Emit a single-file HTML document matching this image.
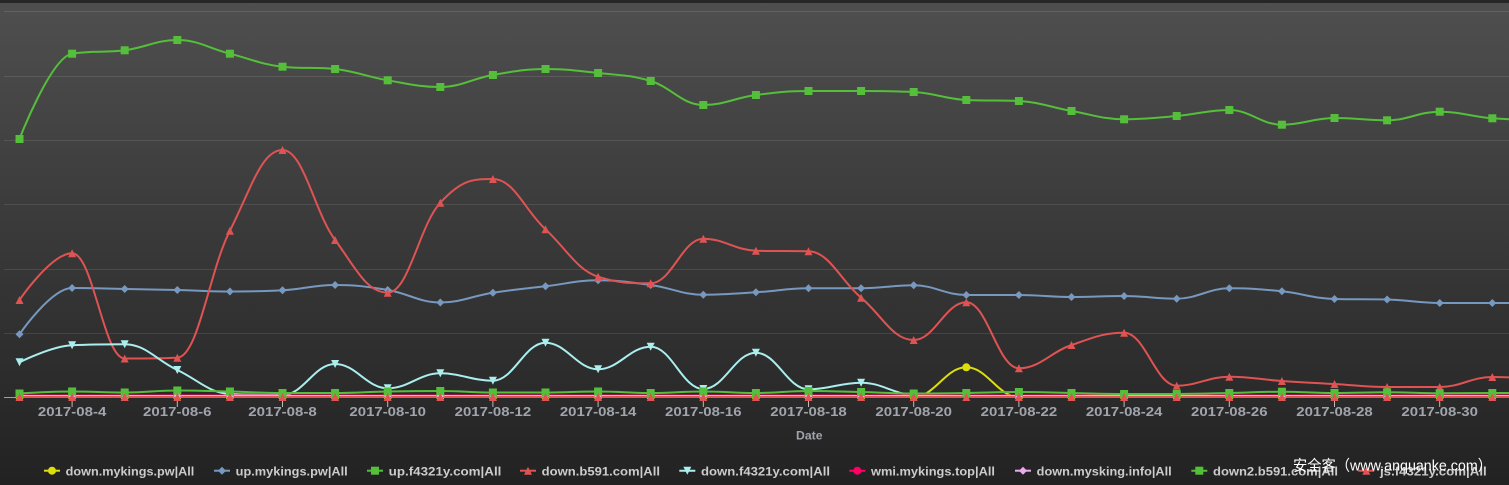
<!DOCTYPE html>
<html><head><meta charset="utf-8">
<style>
html,body{margin:0;padding:0;background:#222;}
svg{display:block;}
.ax{font-family:"Liberation Sans",sans-serif;font-weight:bold;font-size:13px;fill:#a0a4ac;}
.lg{font-family:"Liberation Sans",sans-serif;font-weight:bold;font-size:12px;fill:#cccccc;}
.wm{font-family:"Liberation Sans","Noto Sans CJK SC",sans-serif;font-size:15px;fill:#ffffff;}
</style></head>
<body>
<svg id="c" width="1509" height="485" viewBox="0 0 1509 485" xmlns="http://www.w3.org/2000/svg">
<defs>
<linearGradient id="bg" x1="0" y1="0" x2="0" y2="1">
<stop offset="0" stop-color="#4f4f4f"/><stop offset="1" stop-color="#222222"/>
</linearGradient>
<clipPath id="clip"><rect x="4" y="0" width="1505" height="420"/></clipPath>
</defs>
<rect width="1509" height="485" fill="url(#bg)"/>
<rect width="1509" height="3" fill="#262626"/>
<g stroke="rgba(255,255,255,0.1)" stroke-width="1">
<line x1="4" x2="1509" y1="11.5" y2="11.5"/>
<line x1="4" x2="1509" y1="76.5" y2="76.5"/>
<line x1="4" x2="1509" y1="140.5" y2="140.5"/>
<line x1="4" x2="1509" y1="204.5" y2="204.5"/>
<line x1="4" x2="1509" y1="269.5" y2="269.5"/>
<line x1="4" x2="1509" y1="333.5" y2="333.5"/>
</g>
<line x1="4" x2="1509" y1="397.5" y2="397.5" stroke="#a0a0a0" stroke-width="1"/>
<g stroke="#bbbbbb" stroke-width="1">
<line x1="72.1" x2="72.1" y1="397" y2="407"/>
<line x1="177.3" x2="177.3" y1="397" y2="407"/>
<line x1="282.5" x2="282.5" y1="397" y2="407"/>
<line x1="387.7" x2="387.7" y1="397" y2="407"/>
<line x1="492.9" x2="492.9" y1="397" y2="407"/>
<line x1="598.1" x2="598.1" y1="397" y2="407"/>
<line x1="703.3" x2="703.3" y1="397" y2="407"/>
<line x1="808.5" x2="808.5" y1="397" y2="407"/>
<line x1="913.7" x2="913.7" y1="397" y2="407"/>
<line x1="1018.9" x2="1018.9" y1="397" y2="407"/>
<line x1="1124.1" x2="1124.1" y1="397" y2="407"/>
<line x1="1229.3" x2="1229.3" y1="397" y2="407"/>
<line x1="1334.5" x2="1334.5" y1="397" y2="407"/>
<line x1="1439.7" x2="1439.7" y1="397" y2="407"/>
</g>
<g id="lines" clip-path="url(#clip)" fill="none" stroke-width="2" stroke-linejoin="round" stroke-linecap="round"></g>
<g id="markers" clip-path="url(#clip)"></g>

<g class="ax" text-anchor="middle">
<text x="72.1" y="416" textLength="68.5" lengthAdjust="spacingAndGlyphs">2017-08-4</text>
<text x="177.3" y="416" textLength="68.5" lengthAdjust="spacingAndGlyphs">2017-08-6</text>
<text x="282.5" y="416" textLength="68.5" lengthAdjust="spacingAndGlyphs">2017-08-8</text>
<text x="387.7" y="416" textLength="76.5" lengthAdjust="spacingAndGlyphs">2017-08-10</text>
<text x="492.9" y="416" textLength="76.5" lengthAdjust="spacingAndGlyphs">2017-08-12</text>
<text x="598.1" y="416" textLength="76.5" lengthAdjust="spacingAndGlyphs">2017-08-14</text>
<text x="703.3" y="416" textLength="76.5" lengthAdjust="spacingAndGlyphs">2017-08-16</text>
<text x="808.5" y="416" textLength="76.5" lengthAdjust="spacingAndGlyphs">2017-08-18</text>
<text x="913.7" y="416" textLength="76.5" lengthAdjust="spacingAndGlyphs">2017-08-20</text>
<text x="1018.9" y="416" textLength="76.5" lengthAdjust="spacingAndGlyphs">2017-08-22</text>
<text x="1124.1" y="416" textLength="76.5" lengthAdjust="spacingAndGlyphs">2017-08-24</text>
<text x="1229.3" y="416" textLength="76.5" lengthAdjust="spacingAndGlyphs">2017-08-26</text>
<text x="1334.5" y="416" textLength="76.5" lengthAdjust="spacingAndGlyphs">2017-08-28</text>
<text x="1439.7" y="416" textLength="76.5" lengthAdjust="spacingAndGlyphs">2017-08-30</text>
<text x="809.3" y="439.5" style="font-size:11.5px" textLength="26.5" lengthAdjust="spacingAndGlyphs">Date</text>
</g>

<!-- legend -->
<g stroke-width="2">
<line x1="44" x2="60" y1="470.7" y2="470.7" stroke="#DDDF0D"/>
<circle cx="52" cy="470.7" r="4" fill="#DDDF0D"/>
<line x1="214" x2="230" y1="470.7" y2="470.7" stroke="#7798BF"/>
<path d="M222 466.7L226 470.7L222 474.7L218 470.7Z" fill="#7798BF"/>
<line x1="367" x2="383" y1="470.7" y2="470.7" stroke="#55BF3B"/>
<rect x="371" y="466.7" width="8" height="8" fill="#55BF3B"/>
<line x1="520" x2="536" y1="470.7" y2="470.7" stroke="#DF5353"/>
<path d="M528 466.7L532 474.7L524 474.7Z" fill="#DF5353"/>
<line x1="679.3" x2="695.3" y1="470.7" y2="470.7" stroke="#aaeeee"/>
<path d="M683.3 466.7L691.3 466.7L687.3 474.7Z" fill="#aaeeee"/>
<line x1="849.3" x2="865.3" y1="470.7" y2="470.7" stroke="#ff0066"/>
<circle cx="857.3" cy="470.7" r="4" fill="#ff0066"/>
<line x1="1015" x2="1031" y1="470.7" y2="470.7" stroke="#eeaaee"/>
<path d="M1023 466.7L1027 470.7L1023 474.7L1019 470.7Z" fill="#eeaaee"/>
<line x1="1191.3" x2="1207.3" y1="470.7" y2="470.7" stroke="#55BF3B"/>
<rect x="1195.3" y="466.7" width="8" height="8" fill="#55BF3B"/>
<line x1="1358.3" x2="1374.3" y1="470.7" y2="470.7" stroke="#DF5353"/>
<path d="M1366.3 466.7L1370.3 474.7L1362.3 474.7Z" fill="#DF5353"/>
</g>
<g class="lg">
<text x="65.7" y="475.5" textLength="128.6" lengthAdjust="spacingAndGlyphs">down.mykings.pw|All</text>
<text x="235.7" y="475.5" textLength="112" lengthAdjust="spacingAndGlyphs">up.mykings.pw|All</text>
<text x="388.7" y="475.5" textLength="112.7" lengthAdjust="spacingAndGlyphs">up.f4321y.com|All</text>
<text x="541.7" y="475.5" textLength="118.3" lengthAdjust="spacingAndGlyphs">down.b591.com|All</text>
<text x="701" y="475.5" textLength="129" lengthAdjust="spacingAndGlyphs">down.f4321y.com|All</text>
<text x="871" y="475.5" textLength="124" lengthAdjust="spacingAndGlyphs">wmi.mykings.top|All</text>
<text x="1036.7" y="475.5" textLength="135" lengthAdjust="spacingAndGlyphs">down.mysking.info|All</text>
<text x="1213" y="475.5" textLength="125" lengthAdjust="spacingAndGlyphs">down2.b591.com|All</text>
<text x="1380" y="475.5" textLength="106.7" lengthAdjust="spacingAndGlyphs">js.f4321y.com|All</text>
</g>
<text class="wm" x="1293" y="470.5" textLength="199" lengthAdjust="spacingAndGlyphs">安全客（www.anquanke.com）</text>
</svg>
<script>
(function(){
var NS="http://www.w3.org/2000/svg";
function X(i){return 19.5+52.6*i;}
function fill(v,n){var a=[];for(var i=0;i<n;i++)a.push(v);return a;}
var Z=397;
var yellow=fill(Z,30); yellow[18]=367.3;
var blue=[334.3,288,289,290,291.5,290.3,285,290,302.5,292.7,286.3,280.3,285,294.7,292.3,288.3,288.3,285.3,295,295,297,296,298.7,288.3,291.3,299,299.5,303,303,303];
var green=[139,53.7,50.3,40,53.7,66.7,69,80.3,87,75,69,73,81,105,95,91,91,92,100,101,111,119.3,116,110,124.7,118,120.3,111.7,118.3,120];
var red=[300,253.3,358.5,357.7,230.7,150,240,292.7,202.7,179,229.3,276.7,283.3,238.7,250.7,251.3,297.7,340,302.3,368.3,345,332.7,385.7,376.7,381,384,387,387,377,380];
var cyan=[362.3,345.3,344.3,370,394,395,364,388.3,373.3,380.7,342.7,369.3,346.7,389,352.7,389.3,382.7,395,396,396,396,396,396,396,396,396,396,396,396,396];
var wmi=fill(395.5,30);
var mys=fill(396,30);
var g2=[393.5,391.5,392.5,390.5,391.5,393,393,391.5,391,392.5,392.5,391.5,393,391.5,393,391,392,393.5,393,392,393,394,394,393,391.7,393,392.3,393.3,393,393];
var js=fill(Z,30);
var S=[
 {d:yellow,c:"#DDDF0D",m:"circle"},
 {d:blue,c:"#7798BF",m:"diamond"},
 {d:green,c:"#55BF3B",m:"square"},
 {d:red,c:"#DF5353",m:"triangle"},
 {d:cyan,c:"#aaeeee",m:"tdown"},
 {d:wmi,c:"#ff0066",m:"circle"},
 {d:mys,c:"#eeaaee",m:"diamond"},
 {d:g2,c:"#55BF3B",m:"square"},
 {d:js,c:"#DF5353",m:"triangle"}
];
function spline(p){
 var s=1.5,den=2.5,cont=[],i;
 for(i=0;i<p.length;i++){
  if(i>0&&i<p.length-1){
   var lx=p[i-1][0],ly=p[i-1][1],x=p[i][0],y=p[i][1],nx=p[i+1][0],ny=p[i+1][1];
   var lcx=(s*x+lx)/den,lcy=(s*y+ly)/den,rcx=(s*x+nx)/den,rcy=(s*y+ny)/den;
   if(rcx!==lcx){var c=((rcy-lcy)*(rcx-x))/(rcx-lcx)+y-rcy;lcy+=c;rcy+=c;}
   if(lcy>ly&&lcy>y){lcy=Math.max(ly,y);rcy=2*y-lcy;}else if(lcy<ly&&lcy<y){lcy=Math.min(ly,y);rcy=2*y-lcy;}
   if(rcy>ny&&rcy>y){rcy=Math.max(ny,y);lcy=2*y-rcy;}else if(rcy<ny&&rcy<y){rcy=Math.min(ny,y);lcy=2*y-rcy;}
   cont[i]=[lcx,lcy,rcx,rcy];
  } else cont[i]=null;
 }
 var d="M"+p[0][0]+","+p[0][1];
 for(i=1;i<p.length;i++){
  var pc=cont[i-1],cc=cont[i];
  var a=pc?[pc[2],pc[3]]:p[i-1];
  var b=cc?[cc[0],cc[1]]:p[i];
  d+="C"+a[0].toFixed(2)+","+a[1].toFixed(2)+" "+b[0].toFixed(2)+","+b[1].toFixed(2)+" "+p[i][0].toFixed(2)+","+p[i][1].toFixed(2);
 }
 return d;
}
var L=document.getElementById("lines"),M=document.getElementById("markers");
S.forEach(function(s){
 var pts=s.d.map(function(v,i){return [X(i),v];});
 var path=document.createElementNS(NS,"path");
 path.setAttribute("d",spline(pts));
 path.setAttribute("stroke",s.c);
 L.appendChild(path);
});
S.forEach(function(s){
 for(var i=0;i<29;i++){
  var x=X(i),y=s.d[i],el;
  if(s.m==="circle"){el=document.createElementNS(NS,"circle");el.setAttribute("cx",x);el.setAttribute("cy",y);el.setAttribute("r",4);}
  else if(s.m==="square"){el=document.createElementNS(NS,"rect");el.setAttribute("x",x-4);el.setAttribute("y",y-4);el.setAttribute("width",8);el.setAttribute("height",8);}
  else {
   el=document.createElementNS(NS,"path");var d;
   if(s.m==="diamond")d="M"+x+" "+(y-4)+"L"+(x+4)+" "+y+"L"+x+" "+(y+4)+"L"+(x-4)+" "+y+"Z";
   else if(s.m==="triangle")d="M"+x+" "+(y-4)+"L"+(x+4)+" "+(y+4)+"L"+(x-4)+" "+(y+4)+"Z";
   else d="M"+(x-4)+" "+(y-4)+"L"+(x+4)+" "+(y-4)+"L"+x+" "+(y+4)+"Z";
   el.setAttribute("d",d);
  }
  el.setAttribute("fill",s.c);
  M.appendChild(el);
 }
});
})();
</script>
</body></html>
